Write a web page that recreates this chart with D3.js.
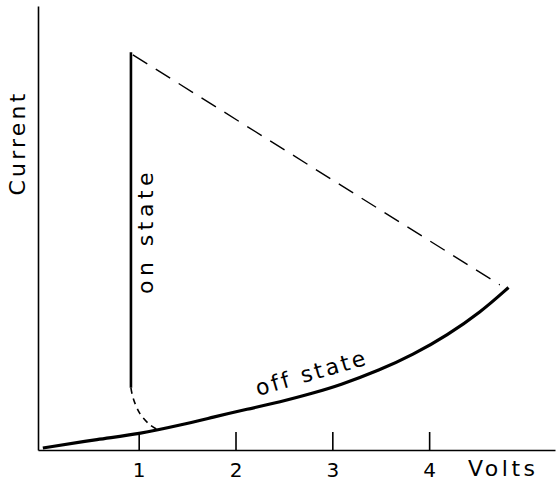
<!DOCTYPE html>
<meta charset="utf-8">
<style>
body { margin: 0; background: #fff; }
svg text { font-family: "DejaVu Sans", sans-serif; fill: #000; }
.axis path, .axis line { stroke: #000; stroke-width: 1.6; }
.axis text { font-size: 20px; font-family: "DejaVu Sans", sans-serif; }
</style>
<svg width="556" height="483"></svg>
<script src="https://d3js.org/d3.v7.min.js"></script>
<script>

// off state characteristic (volts, current in arbitrary units)
var offVolts   = [0.01, 0.6, 1.0, 1.43, 1.77, 2.12, 2.46, 2.8, 3.08, 3.49, 3.83, 4.19, 4.53, 4.82];
var offCurrent = [0.45, 2.5, 3.6, 5.6, 7.4, 9.2, 10.8, 12.8, 14.6, 18.0, 21.4, 25.9, 31.0, 36.6];

// on state (vertical line)
var onVolts   = [0.92, 0.92];
var onCurrent = [89.6, 14];

// dashed return from on state down to off curve
var dropVolts   = [0.92, 0.94, 1.01, 1.12, 1.2];
var dropCurrent = [14, 11.9, 8.3, 5.6, 4.5];

// dashed load line
var loadVolts   = [0.94, 4.73];
var loadCurrent = [89, 37.2];

var xTicks = [1, 2, 3, 4];

var svg = d3.select("svg");

var x = d3.scaleLinear().domain([-0.04, 5.3]).range([38, 555]);
var y = d3.scaleLinear().domain([0, 100]).range([450, 6]);

function zip(a, b) { return a.map(function(d, i) { return [d, b[i]]; }); }

function line(curve) {
  return d3.line()
    .x(function(d) { return x(d[0]); })
    .y(function(d) { return y(d[1]); })
    .curve(curve);
}

// axes
svg.append("g")
    .attr("class", "axis")
    .attr("transform", "translate(0," + y(0) + ")")
    .call(d3.axisBottom(x)
      .tickValues(xTicks)
      .tickFormat(d3.format("d"))
      .tickSize(-18)
      .tickSizeOuter(0)
      .tickPadding(13))
  .selectAll("text").attr("fill", "#000");

svg.append("g")
    .attr("class", "axis")
    .attr("transform", "translate(" + x(-0.04) + ",0)")
    .call(d3.axisLeft(y).tickValues([]).tickSizeOuter(0));

// curves
svg.append("path")
    .datum(zip(offVolts, offCurrent))
    .attr("fill", "none")
    .attr("stroke", "#000")
    .attr("stroke-width", 3.2)
    .attr("d", line(d3.curveBasis));

svg.append("path")
    .datum(zip(onVolts, onCurrent))
    .attr("fill", "none")
    .attr("stroke", "#000")
    .attr("stroke-width", 2.6)
    .attr("d", line(d3.curveLinear));

svg.append("path")
    .datum(zip(dropVolts, dropCurrent))
    .attr("fill", "none")
    .attr("stroke", "#000")
    .attr("stroke-width", 1.6)
    .attr("stroke-dasharray", "6,5")
    .attr("d", line(d3.curveCatmullRom));

svg.append("path")
    .datum(zip(loadVolts, loadCurrent))
    .attr("fill", "none")
    .attr("stroke", "#000")
    .attr("stroke-width", 1.4)
    .attr("stroke-dasharray", "17,10")
    .attr("d", line(d3.curveLinear));

// labels
svg.append("text")
    .attr("transform", "translate(25,143) rotate(-90)")
    .attr("text-anchor", "middle")
    .attr("font-size", 22)
    .attr("letter-spacing", 3.2)
    .text("Current");

svg.append("text")
    .attr("transform", "translate(153,231) rotate(-90)")
    .attr("text-anchor", "middle")
    .attr("font-size", 22)
    .attr("letter-spacing", 4.5)
    .text("on state");

svg.append("text")
    .attr("transform", "translate(258,396) rotate(-16)")
    .attr("font-size", 22)
    .attr("letter-spacing", 2.7)
    .text("off state");

svg.append("text")
    .attr("x", 468)
    .attr("y", 476)
    .attr("font-size", 22)
    .attr("letter-spacing", 3.5)
    .text("Volts");

</script>
